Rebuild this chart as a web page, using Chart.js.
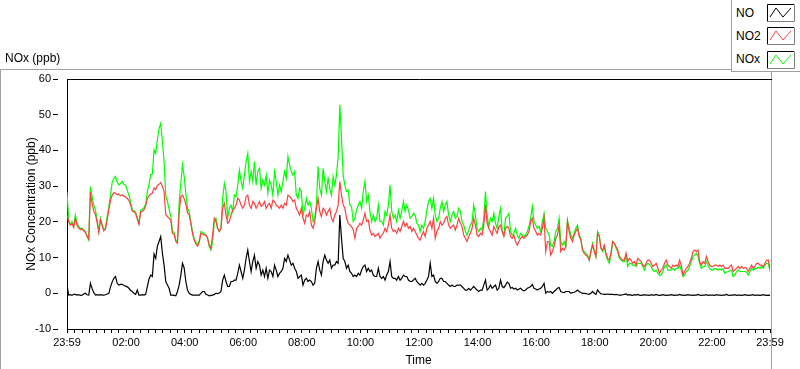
<!DOCTYPE html>
<html>
<head>
<meta charset="utf-8">
<script src="https://cdn.jsdelivr.net/npm/chart.js@4.4.1/dist/chart.umd.min.js"></script>
<style>
  body { margin: 0; background: #fff; font-family: 'Liberation Sans', Arial, sans-serif; }
  #wrap { position: relative; width: 800px; height: 369px; overflow: hidden; }
  #noxChart { position: absolute; left: 0; top: 0; }
  #caption { position: absolute; left: 5px; top: 51px; font-size: 12px; color: #000; }
  #legend { position: absolute; left: 731px; top: 0; width: 68px; height: 71px;
    border-left: 1px solid #a0a0a0; border-bottom: 1px solid #a0a0a0; background: #fff; }
  .legend-label { position: absolute; left: 4px; font-size: 12px; line-height: 14px; color: #000; }
  .legend-swatch { position: absolute; left: 35px; }
</style>
</head>
<body>
<div id="wrap">
  <canvas id="noxChart" width="800" height="369"></canvas>
  <div id="caption">NOx (ppb)</div>
  <div id="legend"></div>
</div>
<script>
// 421 readings over the day, 23:59 to 23:59
const stepMinutes = 1440 / 420;

const tickMinutes = [0, 121, 241, 361, 481, 601, 721, 841, 961, 1081, 1201, 1321, 1440];
const timeTicks = ['23:59', '02:00', '04:00', '06:00', '08:00', '10:00', '12:00',
  '14:00', '16:00', '18:00', '20:00', '22:00', '23:59'];

const seriesNames = ['NO', 'NO2', 'NOx'];

const noValues = [
  2.3, -0.5, -0.4, -0.6, -0.3, -0.3, -0.5, -0.4, -0.6, -0.5, -0.2, 0, -0.4, -0.5, 2.8, 1.3, 0.2, -0.5, -0.4, -0.5,
  -0.4, -0.5, -0.5, -0.4, -0.2, 0, 1.8, 3.2, 4.2, 4.7, 2.8, 2.3, 2.5, 2.5, 2.2, 2, 1.8, 1.4, 0.8, 0.5,
  0, -0.3, 0.9, -0.5, -0.5, -0.4, -0.5, -0.3, 1.9, 4, 5.1, 4.7, 11, 9.8, 13.2, 14.5, 15.9, 11.2, 7.9, 3.3,
  2.3, 1.4, -0.5, -0.5, -0.6, -0.7, 0.5, 2.3, 5, 8.4, 7.1, 3.3, 0.9, 0, -0.3, -0.5, -0.5, -0.5, -0.5, -0.5,
  0, 0.5, 0.5,
  -0.3, -0.5, -0.7, -0.6, -0.5, -0.3, 0, -0.1, 0.1, 0.5, 3.7, 5.1, 3.3, 1.9, 1.9, 3.3, 3.3, 3.7, 3.7, 5.6,
  7.9, 6.1, 4.2, 6.5, 9.8, 12.1, 8.9, 6.1, 8.9, 10.7, 7, 8.9, 7.9, 5.1, 6.5, 4.7, 7, 4.2, 6.5, 6.1,
  4.7, 7.9, 6.5, 4.7, 5.6, 6.1, 7, 9.8, 8.9, 10.7, 9.3, 7.9, 8.4, 7, 6.1, 4.2, 4.7, 5.1, 2.3, 3.7,
  4.2, 3.3, 3.7, 3.3, 2.3, 2.8, 7, 8.9, 6.5, 5.1, 8.9, 10.7, 9.3, 8.4, 9.3, 7, 7.9, 7.9, 8.9, 8.4,
  21.9, 15.4, 9.8, 8.9,
  7, 7.9, 6.1, 5.6, 4.7, 5.1, 4.7, 5.6, 5.1, 6.5, 7.5, 7.9, 6.1, 7, 6.1, 6.5, 5.1, 4.7, 4.7, 7,
  4.7, 4.2, 4.7, 3.7, 5.1, 6.1, 8.9, 4.7, 4.2, 4.2, 3.7, 4.7, 3.7, 4.2, 5.1, 4.7, 4.7, 3.7, 3.3, 3.3,
  3.7, 4.2, 3.3, 2.8, 2.3, 2.8, 2.3, 2.8, 3.7, 4.7, 8.4, 4.7, 5.1, 3.3, 2.8, 3.3, 4.2, 4.2, 3.3, 3.3,
  2.8, 2.3, 1.9, 2.3, 1.9, 1.9, 2.3, 2.3, 2.3, 1.9, 1.4, 0.9, 0.9, 1.4, 0.9, 1.4, 1.9, 1.4, 0.9, 0.5,
  0.9, 0.9, 2.3, 3.7,
  0.9, 1.4, 2.3, 1.4, 1.9, 2.3, 0.9, 1.4, 3.7, 1.9, 1.6, 2.3, 3.1, 2.8, 1.4, 1.6, 1.2, 1.4, 0.9, 1.2,
  1.4, 0.9, 0.7, 0.9, 1.4, 1.6, 1.9, 2.5, 1.4, 1.2, 0.9, 1.2, 1.4, 1.9, 2.8, 0, 0.5, 0.3, 0.5, 0,
  0.5, 0.9, 1.4, 1.6, 0.5, 0.3, 0.2, 0.5, 0.5, 0.5, 0, 0.2, 0.3, 0.5, 0.9, 0.5, 0.2, 0, 0, -0.1,
  -0.2, -0.3, 0, 0.5, 0, -0.3, 0.9, 0.3, -0.2, -0.2, -0.3, -0.3, -0.2, -0.3, -0.3, -0.3, -0.4, -0.3, -0.4, -0.5,
  -0.5, -0.4, -0.3, -0.2,
  -0.5, -0.4, -0.5, -0.6, -0.4, -0.5, -0.3, -0.5, -0.6, -0.5, -0.4, -0.5, -0.5, -0.6, -0.4, -0.5, -0.5, -0.3, -0.5, -0.6,
  -0.5, -0.4, -0.5, -0.6, -0.5, -0.5, -0.4, -0.5, -0.6, -0.5, -0.5, -0.3, -0.5, -0.5, -0.6, -0.5, -0.4, -0.5, -0.5, -0.6,
  -0.5, -0.5, -0.3, -0.5, -0.6, -0.5, -0.5, -0.4, -0.6, -0.5, -0.5, -0.5, -0.6, -0.4, -0.5, -0.5, -0.6, -0.5, -0.5, -0.3,
  -0.5, -0.6, -0.5, -0.5, -0.4, -0.6, -0.5, -0.5, -0.6, -0.5, -0.4, -0.5, -0.6, -0.5, -0.5, -0.4, -0.6, -0.5, -0.5, -0.6,
  -0.5, -0.4, -0.5, -0.6, -0.5, -0.6
];

const no2Values = [
  22, 20, 19.1, 19.5, 18.5, 21, 19, 18.3, 17.8, 18, 17.5, 17, 16, 15.2, 28.3, 25, 23, 22, 19.8, 17,
  20.5, 19, 17.5, 18, 20.5, 23.5, 26, 27.5, 28.2, 28, 27.6, 27.8, 27.3, 27.6, 27.2, 27, 26.5, 26, 24.8, 23,
  22.8, 22.4, 20.8, 19.3, 22.8, 23, 23.4, 24.5, 26.5, 27.3, 27.8, 28, 29.5, 29, 30.2, 30.5, 31, 30, 28.5, 22,
  21.5, 21, 20.5, 16.8, 16.5, 14.5, 14, 22.5, 27, 27.5, 26.5, 25, 22.5, 22, 19.5, 16.8, 14.9, 13.8, 13.2, 14.3,
  16.8, 16.6, 16.3,
  16.3, 15.4, 13.5, 12.6, 16.3, 21, 20.1, 18.2, 17.3, 18.2, 23.8, 25.2, 21.9, 19.6, 20.1, 21.9, 23.3, 23.8, 24.7, 26.6,
  26.1, 24.7, 23.8, 24.7, 27.1, 27.5, 24.7, 23.8, 25.7, 25.2, 23.8, 24.7, 25.7, 24.3, 24.7, 25.7, 23.8, 24.7, 25.2, 23.8,
  26.1, 25.7, 24.7, 24.3, 23.8, 24.7, 23.8, 25.2, 24.7, 27.5, 27.1, 26.6, 25.7, 26.1, 23.8, 22.9, 21.9, 23.8, 21, 19.6,
  21.9, 21.5, 22.9, 19.1, 18.2, 20.1, 23.8, 26.6, 22.9, 21.5, 23.8, 23.3, 21.9, 22.9, 23.8, 21, 20.1, 21.9, 22.9, 24.7,
  31.3, 27.5, 24.7, 23.8,
  21, 19.6, 19.1, 18.7, 17.7, 15.4, 18.2, 18.7, 19.6, 19.1, 20.5, 22.4, 20.1, 20.5, 17.7, 16.3, 16.8, 15.9, 16.3, 16.8,
  15.4, 16.3, 16.8, 18.2, 17.3, 19.1, 21.9, 18.2, 17.3, 17.7, 16.8, 18.2, 17.3, 18.7, 20.1, 18.7, 19.6, 18.2, 18.7, 17.3,
  18.2, 17.3, 16.3, 15.4, 14.9, 16.3, 17.3, 15.9, 18.2, 19.1, 20.1, 18.2, 21, 15.4, 17.3, 18.2, 20.1, 19.1, 19.6, 21,
  21.5, 19.1, 18.2, 18.7, 19.1, 17.7, 19.1, 21, 19.6, 18.7, 16.3, 15.4, 14.5, 15.9, 16.8, 18.2, 21, 19.1, 16.3, 15.9,
  16.8, 16.3, 19.1, 24.7,
  19.6, 18.2, 17.3, 16.3, 18.7, 17.7, 16.8, 18.7, 19.1, 17.3, 15.9, 18.2, 18.7, 18.2, 15.9, 15.4, 16.3, 14.5, 13.5, 14.5,
  15.4, 15.9, 15.4, 15.9, 16.3, 17.3, 20.1, 21, 18.2, 17.3, 16.3, 16.8, 16.3, 18.2, 21, 11.7, 14.5, 14.5, 10.7, 11.7,
  13.1, 15.4, 16.3, 19.1, 11.7, 12.6, 12.1, 13.1, 20.1, 17.3, 15.4, 14.5, 16.3, 17.3, 18.2, 15.9, 14.9, 12.1, 11.2, 10.7,
  10.3, 9.3, 11.7, 13.5, 11.7, 10.3, 16.8, 15.9, 12.6, 12.1, 13.5, 11.2, 9.8, 9.3, 11.2, 14.5, 14, 13.1, 12.1, 10.3,
  9.8, 9.3, 9.3, 11.2,
  8.9, 9.8, 9.3, 8.4, 8.9, 7.9, 9.8, 9.3, 8.9, 7.9, 7.5, 8.4, 9.3, 9.3, 8.4, 7.5, 7.9, 8.4, 7, 5.6,
  6.5, 7, 8.4, 9.3, 7.9, 7.5, 7, 7.9, 7.5, 7.9, 7.5, 9.3, 7.9, 5.1, 6.1, 7, 7.5, 8.4, 9.8, 11.7,
  12.1, 11.7, 12.1, 8.9, 7.9, 8.9, 8.4, 10.3, 8.9, 7.9, 7.5, 7.5, 7.9, 7.9, 7.5, 7.9, 7.5, 7.9, 7, 7,
  7, 7.5, 7.9, 6.1, 6.5, 7, 7.5, 7, 7.5, 7, 7.2, 7, 6.1, 7, 7.9, 7, 7.5, 8.4, 8.4, 7.9,
  7.9, 7.5, 8.4, 9.3, 9.3, 7
];

const noxValues = [
  28.3, 20.5, 19.1, 20.1, 18.7, 21.9, 19.6, 18.7, 18.2, 18.2, 17.7, 17.3, 15.9, 14.9, 29.9, 27.1, 24.7, 23.3, 20.5, 17.3,
  21, 19.3, 17.7, 18.4, 21.5, 24.3, 27.5, 31.1, 32.2, 32.7, 31.1, 30.3, 30.8, 31.3, 30.5, 30.2, 28.9, 27.4, 25.5, 23.3,
  23.1, 22.7, 21.2, 19.6, 23.3, 23.5, 24, 24.9, 28.5, 30.5, 33.2, 33.4, 40.2, 39.2, 43, 46.2, 47.6, 42.5, 36.9, 27.5,
  25.7, 23.6, 21.5, 17.3, 17.1, 14.9, 14.5, 25.2, 30.8, 36, 32.7, 28, 23.8, 22.7, 19.9, 17.1, 15.2, 14.3, 13.5, 14.7,
  17.3, 17.1, 16.7,
  16.3, 15.4, 13.1, 12.1, 14.5, 20.1, 21, 18.2, 17.3, 18.2, 26.6, 30.8, 28.5, 21, 23.8, 24.7, 22.9, 27.5, 27.1, 30.3,
  34.5, 31.3, 29.4, 33.1, 36.9, 39.2, 31.3, 34.1, 31.3, 36.9, 30.3, 34.1, 35, 29.4, 31.7, 30.3, 33.1, 28, 31.7, 30.3,
  27.5, 34.1, 31.3, 27.5, 30.3, 28.5, 31.3, 34.1, 32.2, 38.3, 35.9, 34.1, 33.1, 34.1, 27.5, 26.6, 29.4, 28.5, 21.9, 23.8,
  26.6, 24.7, 25.7, 23.8, 20.1, 21, 24.7, 35.5, 29.4, 27.5, 35, 31.3, 28.5, 32.2, 29.4, 27.5, 32.7, 30.3, 33.1, 38.3,
  52.8, 43.4, 33.1, 30.3,
  28.5, 28.9, 24.7, 24.3, 20.1, 21, 23.3, 24.7, 25.7, 23.8, 28.5, 31.3, 25.7, 27.5, 22.9, 20.1, 21.9, 20.1, 21, 24.7,
  20.1, 20.1, 19.1, 22.9, 21.9, 24.7, 30.3, 22.9, 21, 21.9, 20.1, 23.3, 21, 22.9, 25.7, 22.9, 24.7, 23.3, 21, 21.5,
  22.4, 21.9, 19.6, 19.1, 17.3, 19.1, 18.2, 20.1, 23.3, 25.7, 26.6, 23.8, 26.6, 21.9, 20.1, 21, 23.8, 25.7, 22.9, 24.7,
  25.7, 21.9, 20.1, 21.9, 22.9, 21, 21.5, 23.8, 22.9, 20.1, 19.1, 17.3, 16.3, 17.7, 19.1, 20.1, 24.7, 21.9, 18.2, 17.3,
  18.2, 17.7, 21, 28.5,
  21.9, 18.7, 21, 20.1, 22.4, 19.6, 18.2, 21.5, 23.8, 17.3, 16.3, 21, 21.5, 22.4, 17.3, 16.3, 16.8, 18.2, 16.3, 15.4,
  16.8, 16.3, 15.9, 16.3, 17.3, 18.7, 21, 24.3, 20.1, 19.1, 18.2, 18.7, 17.3, 20.1, 22.4, 18.2, 17.3, 16.3, 13.5, 13.1,
  14.5, 17.3, 18.2, 21, 14.5, 13.5, 14.5, 13.1, 20.5, 18.2, 16.3, 15.4, 16.8, 18.2, 19.1, 16.3, 15.4, 12.1, 11.7, 11.2,
  10.7, 9.3, 11.7, 14, 12.1, 10.3, 17.3, 16.3, 12.6, 11.7, 13.1, 10.7, 9.3, 8.4, 10.7, 14.5, 14, 12.6, 11.7, 9.8,
  9.3, 8.9, 8.9, 10.7,
  7.5, 8.4, 8.4, 7.9, 7.9, 7.5, 8.4, 8.4, 8.4, 7.5, 6.5, 7.9, 8.4, 8.1, 7.5, 6.5, 6.1, 6.5, 5.6, 5.1,
  5.1, 6.1, 7.5, 7.9, 6.5, 6.5, 6.5, 7, 6.5, 7, 7, 7.9, 6.5, 4.7, 5.1, 6.1, 6.5, 7.5, 8.9, 10.3,
  10.7, 11.2, 10.3, 8.4, 7, 7.5, 7.5, 8.9, 7.9, 7, 6.5, 6.5, 7, 6.8, 6.5, 6.8, 6.5, 6.8, 5.6, 5.9,
  6.1, 6.3, 6.5, 4.7, 5.1, 6.1, 6.5, 6.1, 6.1, 6.1, 6.1, 5.9, 5.1, 6.1, 7, 6.5, 7, 7, 7.3, 7,
  7.5, 7, 7.9, 8.4, 8.4, 6.1
];

const seriesColors = ['#000000', '#ff4040', '#00ff00'];

function toPoints(values) {
  return values.map((v, i) => ({ x: i * stepMinutes, y: v }));
}

// tick marks every 15 minutes, labels every two hours
const axisTicks = [0];
for (let m = 16; m < 1440; m += 15) axisTicks.push(m);
axisTicks.push(1440);

const framePlugin = {
  id: 'frame',
  afterDraw(chart) {
    const { ctx, chartArea } = chart;
    ctx.save();
    ctx.lineWidth = 1;
    ctx.strokeStyle = '#a0a0a0';
    ctx.beginPath();
    ctx.moveTo(0.5, 369);
    ctx.lineTo(0.5, 69.5);
    ctx.lineTo(731, 69.5);
    ctx.stroke();
    ctx.beginPath();
    ctx.moveTo(chartArea.right + 1.5, 72);
    ctx.lineTo(chartArea.right + 1.5, 369);
    ctx.stroke();
    ctx.strokeStyle = '#000';
    ctx.beginPath();
    ctx.moveTo(chartArea.left, chartArea.top + 0.5);
    ctx.lineTo(chartArea.right + 2, chartArea.top + 0.5);
    ctx.stroke();
    ctx.restore();
  }
};

const chartContext = document.getElementById('noxChart').getContext('2d');
const noxChart = new Chart(chartContext, {
  type: 'line',
  data: {
    datasets: [
      { label: seriesNames[0], data: toPoints(noValues), borderColor: seriesColors[0] },
      { label: seriesNames[1], data: toPoints(no2Values), borderColor: seriesColors[1] },
      { label: seriesNames[2], data: toPoints(noxValues), borderColor: seriesColors[2] },
    ],
  },
  options: {
    responsive: false,
    animation: false,
    events: [],
    layout: { padding: { left: 0, top: 79, right: 30, bottom: 0 } },
    elements: {
      line: { borderWidth: 1.2, tension: 0, fill: false },
      point: { radius: 0 },
    },
    plugins: {
      legend: { display: false },
      tooltip: { enabled: false },
    },
    scales: {
      x: {
        type: 'linear',
        min: 0,
        max: 1440,
        afterBuildTicks: scale => {
          scale.ticks = axisTicks.map(value => ({ value }));
        },
        afterFit: scale => { scale.height = 40; },
        ticks: {
          autoSkip: false,
          maxRotation: 0,
          padding: 3,
          color: '#000',
          font: { family: 'Liberation Sans', size: 11 },
          callback: value => {
            const idx = tickMinutes.indexOf(value);
            return idx >= 0 ? timeTicks[idx] : '';
          },
        },
        grid: { drawOnChartArea: false, tickLength: 4, color: '#000' },
        border: { display: true, color: '#000' },
        title: {
          display: true,
          text: 'Time',
          color: '#000',
          padding: { top: 0, bottom: 1 },
          font: { family: 'Liberation Sans', size: 12 },
        },
      },
      y: {
        min: -10,
        max: 60,
        afterFit: scale => { scale.width = 67; },
        ticks: {
          stepSize: 10,
          padding: 2,
          color: '#000',
          font: { family: 'Liberation Sans', size: 11 },
        },
        grid: {
          drawOnChartArea: false,
          tickLength: 14,
          tickBorderDash: [5, 20],
          color: '#000',
        },
        border: { display: true, color: '#000' },
        title: {
          display: true,
          text: 'NOx Concentration (ppb)',
          color: '#000',
          padding: { top: 24, bottom: 0 },
          font: { family: 'Liberation Sans', size: 12 },
        },
      },
    },
  },
  plugins: [framePlugin],
});

// legend built from the chart's datasets
const legendEl = document.getElementById('legend');
noxChart.data.datasets.forEach((ds, i) => {
  const rowTop = 4 + i * 23.3;
  const label = document.createElement('div');
  label.className = 'legend-label';
  label.style.top = (rowTop + 1.5) + 'px';
  label.textContent = ds.label;
  legendEl.appendChild(label);

  const sw = document.createElement('canvas');
  sw.className = 'legend-swatch';
  sw.width = 28;
  sw.height = 18;
  sw.style.top = Math.round(rowTop) + 'px';
  const c = sw.getContext('2d');
  c.lineWidth = 1;
  c.strokeStyle = '#000';
  c.beginPath();
  c.moveTo(0.5, 17);
  c.lineTo(0.5, 0.5);
  c.lineTo(27, 0.5);
  c.stroke();
  c.strokeStyle = '#808080';
  c.beginPath();
  c.moveTo(27.5, 0.5);
  c.lineTo(27.5, 17.5);
  c.lineTo(0, 17.5);
  c.stroke();
  c.strokeStyle = ds.borderColor;
  c.beginPath();
  c.moveTo(3, 13);
  c.lineTo(9, 4);
  c.lineTo(16, 13);
  c.lineTo(24, 4);
  c.stroke();
  legendEl.appendChild(sw);
});
</script>
</body>
</html>
